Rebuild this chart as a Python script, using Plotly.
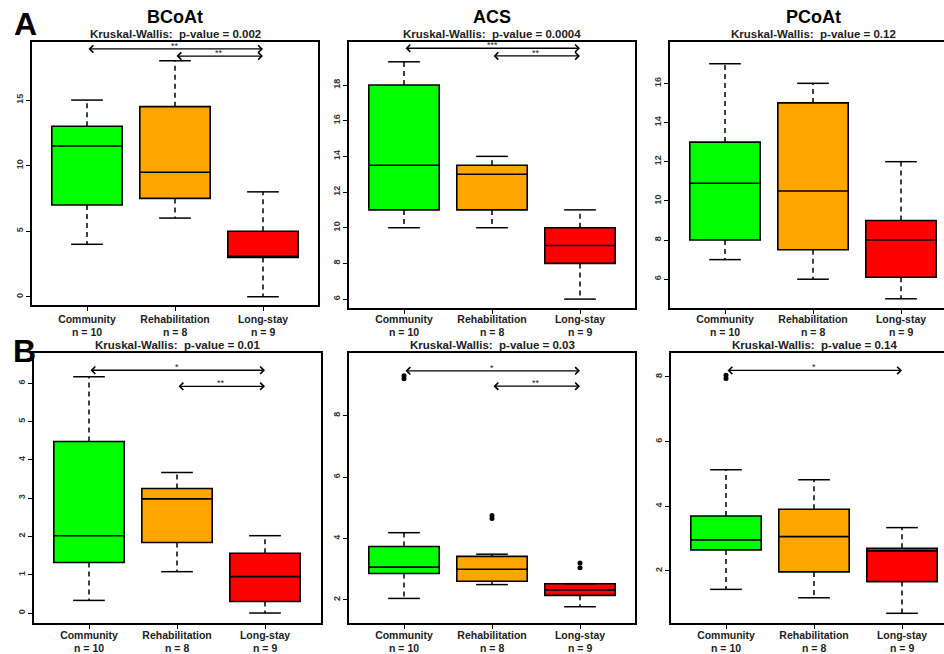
import plotly.graph_objects as go

W, H = 944, 654
FONT = "Liberation Sans, Arial, sans-serif"

groups = ["Community", "Rehabilitation", "Long-stay"]
n_counts = [10, 8, 9]
colors = ["#00FF00", "#FFA500", "#FF0000"]

# ---- panel data (box statistics) ----
titles = ["BCoAt", "ACS", "PCoAt", "", "", ""]
pvalues = ["0.002", "0.0004", "0.12", "0.01", "0.03", "0.14"]

bcoat_low = [4, 6, 0]
bcoat_q1 = [7, 7.5, 3]
bcoat_med = [11.5, 9.5, 3]
bcoat_q3 = [13, 14.5, 5]
bcoat_high = [15, 18, 8]

acs_low = [10, 10, 6]
acs_q1 = [11, 11, 8]
acs_med = [13.5, 13, 9]
acs_q3 = [18, 13.5, 10]
acs_high = [19.3, 14, 11]

pcoat_low = [7, 6, 5]
pcoat_q1 = [8, 7.5, 6.1]
pcoat_med = [10.9, 10.5, 8]
pcoat_q3 = [13, 15, 9]
pcoat_high = [17, 16, 12]

b1_low = [0.33, 1.08, 0]
b1_q1 = [1.32, 1.84, 0.3]
b1_med = [2.02, 2.98, 0.95]
b1_q3 = [4.48, 3.25, 1.56]
b1_high = [6.17, 3.67, 2.02]

b2_low = [2.05, 2.5, 1.78]
b2_q1 = [2.86, 2.61, 2.15]
b2_med = [3.07, 3.0, 2.33]
b2_q3 = [3.74, 3.42, 2.53]
b2_high = [4.19, 3.49, 2.53]
b2_outliers = [[9.2, 9.3], [4.65, 4.75], [3.05, 3.2]]

b3_low = [1.43, 1.17, 0.69]
b3_q1 = [2.65, 1.97, 1.67]
b3_med = [2.96, 3.06, 2.62]
b3_q3 = [3.70, 3.91, 2.70]
b3_high = [5.13, 4.82, 3.34]
b3_outliers = [[7.95, 8.05], [], []]

# significance comparisons: (from group, to group, label, y level)
a1_comp = [(1, 3, "**", 18.9), (2, 3, "**", 18.36)]
a2_comp = [(1, 3, "***", 20.06), (2, 3, "**", 19.63)]
a3_comp = []
b1_comp = [(1, 3, "*", 6.34), (2, 3, "**", 5.92)]
b2_comp = [(1, 3, "*", 9.46), (2, 3, "**", 8.96)]
b3_comp = [(1, 3, "*", 8.2)]

y_ticks = [[0, 5, 10, 15], [6, 8, 10, 12, 14, 16, 18], [6, 8, 10, 12, 14, 16],
           [0, 1, 2, 3, 4, 5, 6], [2, 4, 6, 8], [2, 4, 6, 8]]
y_ranges = [[-0.63, 19.43], [5.5, 20.41], [4.53, 18.11],
            [-0.26, 6.79], [1.25, 10.04], [0.39, 8.74]]

panels = [
    (bcoat_low, bcoat_q1, bcoat_med, bcoat_q3, bcoat_high, [[], [], []], a1_comp),
    (acs_low, acs_q1, acs_med, acs_q3, acs_high, [[], [], []], a2_comp),
    (pcoat_low, pcoat_q1, pcoat_med, pcoat_q3, pcoat_high, [[], [], []], a3_comp),
    (b1_low, b1_q1, b1_med, b1_q3, b1_high, [[], [], []], b1_comp),
    (b2_low, b2_q1, b2_med, b2_q3, b2_high, b2_outliers, b2_comp),
    (b3_low, b3_q1, b3_med, b3_q3, b3_high, b3_outliers, b3_comp),
]

# ---- layout geometry (pixels) : left, right, top, bottom, x of first box, label shift ----
geom = [
    (32, 318, 42, 305, 87, 0),
    (349, 635, 42, 308, 404, -3),
    (670, 944, 42, 308, 725, -3),
    (34, 321, 353, 623, 89, -2),
    (349, 635, 353, 623, 404, -2),
    (671, 944, 353, 623, 726, -2),
]
PX_PER_UNIT = 88.0

fig = go.Figure()
layout = dict(width=W, height=H, margin=dict(l=0, r=0, t=0, b=0),
              paper_bgcolor="white", plot_bgcolor="white", showlegend=False,
              font=dict(family=FONT, color="black"), boxmode="overlay")
annotations = []

ticktext = [f"<b>{g}</b>" for g in groups]

for k, (panel, g) in enumerate(zip(panels, geom)):
    low, q1, med, q3, high, outl, comps = panel
    left, right, top, bottom, c1, shift = g
    ax = "" if k == 0 else str(k + 1)
    xr = 1 - (c1 - left) / PX_PER_UNIT
    xr2 = xr + (right - left) / PX_PER_UNIT
    layout["xaxis" + ax] = dict(
        domain=[left / W, right / W], range=[xr, xr2], anchor="y" + ax,
        showline=True, mirror=True, linecolor="black", linewidth=1.5,
        ticks="outside", ticklen=4, tickwidth=1.2, tickcolor="black",
        tickvals=[1, 2, 3], ticktext=ticktext, showgrid=False, zeroline=False,
        tickfont=dict(size=10.5, family=FONT, color="#222"), automargin=False,
        ticklabelstandoff=shift)
    layout["yaxis" + ax] = dict(
        domain=[1 - bottom / H, 1 - top / H], range=y_ranges[k], anchor="x" + ax,
        showline=True, mirror=True, linecolor="black", linewidth=1.5,
        ticks="outside", ticklen=4, tickwidth=1.2, tickcolor="black",
        tickvals=y_ticks[k], ticktext=[f"<b>{v}</b>" for v in y_ticks[k]],
        tickangle=-90, showgrid=False, zeroline=False,
        tickfont=dict(size=9, family=FONT, color="#333"), automargin=False)
    xa, ya = "x" + ax, "y" + ax
    for i in range(3):
        xc = i + 1
        fig.add_trace(go.Box(
            x=[xc], q1=[q1[i]], median=[med[i]], q3=[q3[i]],
            lowerfence=[q1[i]], upperfence=[q3[i]], width=0.8,
            fillcolor=colors[i], line=dict(color="black", width=1.6),
            whiskerwidth=0, boxpoints=False, xaxis=xa, yaxis=ya,
            hoverinfo="skip"))
        # dashed whiskers
        fig.add_trace(go.Scatter(
            x=[xc, xc, None, xc, xc], y=[q3[i], high[i], None, q1[i], low[i]],
            mode="lines", line=dict(color="black", width=1.5, dash="5px,4px"),
            xaxis=xa, yaxis=ya, hoverinfo="skip"))
        # staples
        fig.add_trace(go.Scatter(
            x=[xc - 0.18, xc + 0.18, None, xc - 0.18, xc + 0.18],
            y=[high[i], high[i], None, low[i], low[i]],
            mode="lines", line=dict(color="black", width=1.5),
            xaxis=xa, yaxis=ya, hoverinfo="skip"))
        if outl[i]:
            fig.add_trace(go.Scatter(
                x=[xc] * len(outl[i]), y=outl[i], mode="markers",
                marker=dict(color="black", size=5, symbol="circle"),
                xaxis=xa, yaxis=ya, hoverinfo="skip"))
        # group size line under the tick label
        n_y = 332 if k < 3 else 648
        annotations.append(dict(
            x=xc, y=1 - n_y / H, xref=xa, yref="paper",
            text=f"<b>n = {n_counts[i]}</b>", showarrow=False,
            font=dict(size=10.5, family=FONT, color="#222"),
            xanchor="center", yanchor="middle"))
    for (a, b, lab, lvl) in comps:
        annotations.append(dict(
            x=b, y=lvl, ax=a, ay=lvl, xref=xa, yref=ya, axref=xa, ayref=ya,
            text="", showarrow=True, arrowhead=4, startarrowhead=4,
            arrowside="end+start", arrowsize=1.1, startarrowsize=1.1,
            arrowwidth=1.3, arrowcolor="black"))
        annotations.append(dict(
            x=(a + b) / 2, y=lvl, xref=xa, yref=ya, text=lab, showarrow=False,
            yshift=3, font=dict(size=9, family=FONT, color="#222"),
            xanchor="center", yanchor="middle"))
    # titles
    if titles[k]:
        annotations.append(dict(
            x=2, y=1 - 17.5 / H, xref=xa, yref="paper", text=f"<b>{titles[k]}</b>",
            showarrow=False, font=dict(size=18, family=FONT, color="black"),
            xanchor="center", yanchor="middle"))
    kw_y = 34 if k < 3 else 345
    annotations.append(dict(
        x=2, y=1 - kw_y / H, xref=xa, yref="paper",
        text=f"<b>Kruskal-Wallis:  p-value = {pvalues[k]}</b>",
        showarrow=False, font=dict(size=11.5, family=FONT, color="#222"),
        xanchor="center", yanchor="middle"))

# panel letters
for letter, px, py in [("A", 25, 24), ("B", 24, 351)]:
    annotations.append(dict(
        x=px / W, y=1 - py / H, xref="paper", yref="paper", text=f"<b>{letter}</b>",
        showarrow=False, font=dict(size=32, family=FONT, color="black"),
        xanchor="center", yanchor="middle"))

layout["annotations"] = annotations
fig.update_layout(**layout)
fig.write_html("out.html", config={"displayModeBar": False},
               post_script="document.body.style.margin='0px';")
